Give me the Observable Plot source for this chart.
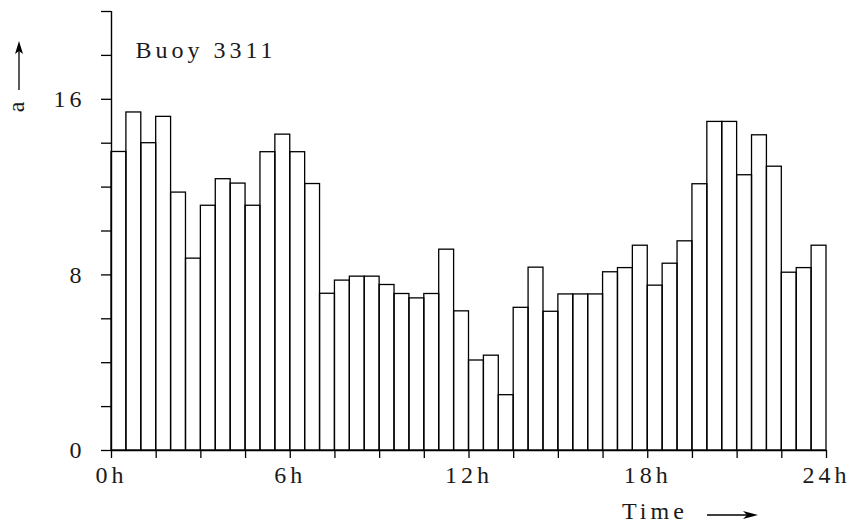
<!DOCTYPE html>
<html>
<head>
<meta charset="utf-8">
<script src="https://cdn.jsdelivr.net/npm/d3@7"></script>
<script src="https://cdn.jsdelivr.net/npm/@observablehq/plot@0.6"></script>
<style>
  html, body { margin: 0; padding: 0; background: white; }
  #chart { width: 856px; height: 527px; }
</style>
</head>
<body>
<div id="chart"></div>
<script>
// Half-hour bin starts (hours)
const binStarts = [0, 0.5, 1, 1.5, 2, 2.5, 3, 3.5, 4, 4.5, 5, 5.5,
  6, 6.5, 7, 7.5, 8, 8.5, 9, 9.5, 10, 10.5, 11, 11.5,
  12, 12.5, 13, 13.5, 14, 14.5, 15, 15.5, 16, 16.5, 17, 17.5,
  18, 18.5, 19, 19.5, 20, 20.5, 21, 21.5, 22, 22.5, 23, 23.5];
const binWidth = 0.5;
// Values of "a" per bin
const aValues = [13.6, 15.4, 14.0, 15.2, 11.75, 8.74, 11.15, 12.36, 12.16, 11.15, 13.59, 14.39,
  13.59, 12.14, 7.14, 7.74, 7.92, 7.92, 7.54, 7.13, 6.93, 7.13, 9.15, 6.34,
  4.10, 4.32, 2.52, 6.50, 8.33, 6.32, 7.11, 7.11, 7.11, 8.12, 8.31, 9.33,
  7.51, 8.51, 9.53, 12.13, 14.97, 14.97, 12.54, 14.36, 12.93, 8.10, 8.31, 9.33];
const xTickValues = [0, 1.5, 3, 4.5, 6, 7.5, 9, 10.5, 12, 13.5, 15, 16.5, 18, 19.5, 21, 22.5, 24];
const xTickLabels = {0: "0h", 6: "6h", 12: "12h", 18: "18h", 24: "24h"};
const yTickValues = [0, 2, 4, 6, 8, 10, 12, 14, 16, 18, 20];
const yTickLabels = {0: "0", 8: "8", 16: "16"};
const title = "Buoy 3311";
const xLabel = "Time";
const yLabel = "a";

const data = binStarts.map((s, i) => ({start: s, a: aValues[i]}));

const FONT = "'Liberation Serif', 'DejaVu Serif', serif";
const INK = "#1a1a1a";

const plot = Plot.plot({
  width: 856,
  height: 527,
  marginLeft: 111,
  marginRight: 30,
  marginTop: 11,
  marginBottom: 77,
  style: {fontFamily: FONT, fontSize: "24px", letterSpacing: "4px", background: "white", color: INK},
  x: {domain: [0, 24], label: null},
  y: {domain: [0, 20], label: null},
  marks: [
    Plot.rectY(data, {
      x1: "start",
      x2: d => d.start + binWidth,
      y1: 0,
      y2: "a",
      fill: "none",
      stroke: "black",
      strokeWidth: 1.3
    }),
    Plot.ruleX([0], {stroke: "black", strokeWidth: 1.4}),
    Plot.ruleY([0], {stroke: "black", strokeWidth: 1.4}),
    Plot.axisX({
      ticks: xTickValues,
      tickFormat: d => xTickLabels[d] ?? "",
      tickSize: 8,
      tickPadding: 7,
      strokeWidth: 1.3,
      stroke: "black",
      label: null
    }),
    Plot.axisY({
      ticks: yTickValues,
      tickFormat: d => yTickLabels[d] ?? "",
      tickSize: 10,
      tickPadding: 16,
      strokeWidth: 1.3,
      stroke: "black",
      label: null
    }),
    Plot.text([title], {
      frameAnchor: "top-left",
      textAnchor: "start",
      lineAnchor: "top",
      dx: 24,
      dy: 29,
      fontSize: 24,
      fill: INK
    })
  ]
});

document.getElementById("chart").appendChild(plot);

// Axis name decorations (labels with arrows)
const svg = d3.select(plot);
// y label: rotated "a" with an upward arrow
svg.append("text")
  .attr("transform", "translate(24,105) rotate(-90)")
  .attr("text-anchor", "middle")
  .attr("font-family", FONT)
  .attr("font-size", 24)
  .attr("fill", INK)
  .text(yLabel);
svg.append("line")
  .attr("x1", 19).attr("x2", 19).attr("y1", 90).attr("y2", 48)
  .attr("stroke", "black").attr("stroke-width", 1.3);
svg.append("path")
  .attr("d", "M19,41 L15,54 L19,51 L23,54 Z")
  .attr("fill", "black");
// x label: "Time" with a rightward arrow
svg.append("text")
  .attr("x", 622).attr("y", 519)
  .attr("text-anchor", "start")
  .attr("font-family", FONT)
  .attr("font-size", 24)
  .attr("letter-spacing", "4px")
  .attr("fill", INK)
  .text(xLabel);
svg.append("line")
  .attr("x1", 707).attr("x2", 748).attr("y1", 515).attr("y2", 515)
  .attr("stroke", "black").attr("stroke-width", 1.3);
svg.append("path")
  .attr("d", "M758,515 L743,511 L747,515 L743,519 Z")
  .attr("fill", "black");
</script>
</body>
</html>
